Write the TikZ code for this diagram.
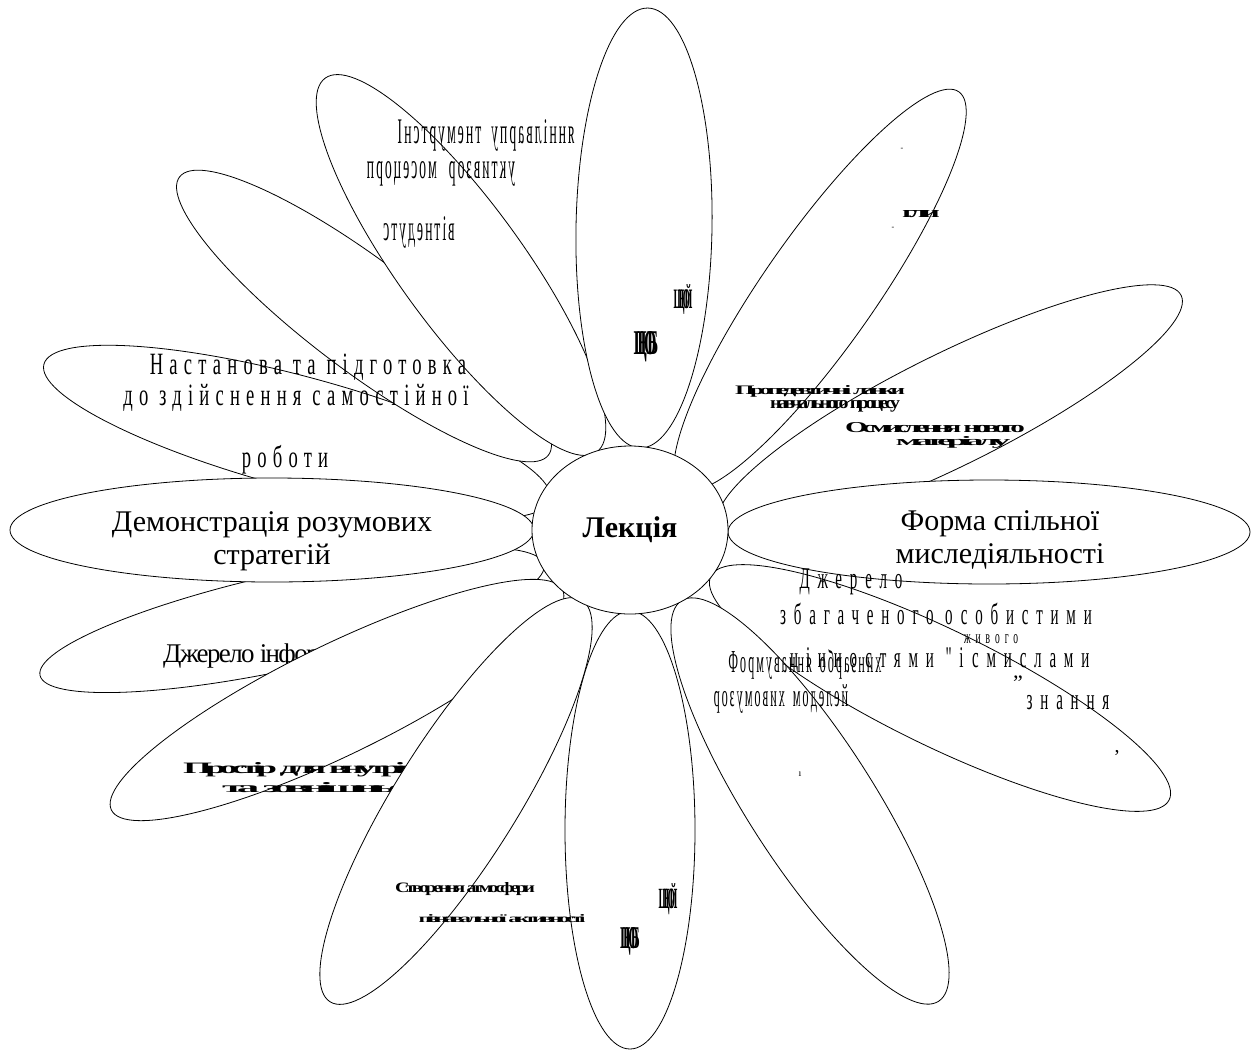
\documentclass[tikz,border=0pt]{standalone}
\usepackage{fontspec}
\usepackage{graphicx}
\setmainfont{Liberation Serif}
\newfontfamily\condfont[FakeStretch=0.6,LetterSpace=20]{Liberation Serif}
\newfontfamily\widefont[FakeStretch=0.5,LetterSpace=26]{Liberation Serif}
\newfontfamily\narrowfont[FakeStretch=0.38]{Liberation Serif}
\newfontfamily\tightfont[LetterSpace=-6]{Liberation Serif}
\newfontfamily\crushfont[LetterSpace=-18]{Liberation Serif}
\newfontfamily\blobfont[LetterSpace=-55]{Liberation Serif}
\usetikzlibrary{shapes.geometric}
\newcommand\fsz[1]{\fontsize{#1}{#1}\selectfont}
\newdimen\mirsp \mirsp=2pt
\def\mirEnd{}
\def\mirA#1{\ifx#1\mirEnd\else\reflectbox{#1}\kern\mirsp\expandafter\mirA\fi}
\newcommand\mirw[1]{\mirA#1\mirEnd}
\newcommand\blob[3]{\resizebox{#1pt}{#2pt}{\blobfont\bfseries #3}}
\newcommand\squash[3]{\resizebox{#1pt}{#2pt}{\crushfont\bfseries #3}}
\tikzset{
  petal/.style={draw, ellipse, line width=0.8pt, fill=white, inner sep=0pt, outer sep=0pt},
  lbl/.style={inner sep=0pt, anchor=base},
  lblw/.style={inner sep=0pt, anchor=base west},
}
\begin{document}
\begin{tikzpicture}[x=1pt,y=-1pt]
\useasboundingbox (0,0) rectangle (1256,1050);
% petals, back to front
\node[petal, minimum width=524, minimum height=112, rotate=-15] (p4) at (297,432) {};
\node[petal, minimum width=462, minimum height=110, rotate=-37] (p3) at (364,316) {};
\node[petal, minimum width=462, minimum height=124, rotate=-54] (p2) at (461,265) {};
\node[petal, minimum width=440, minimum height=136, rotate=89] (p1) at (644,228) {};
\node[petal, minimum width=484, minimum height=112, rotate=55] (p14) at (820,290) {};
\node[petal, minimum width=516, minimum height=112, rotate=26.4] (p13) at (950,410) {};
\node[petal, minimum width=522, minimum height=104] (p12) at (989,532) {};
\node[petal, minimum width=510, minimum height=116, rotate=-26] (p11) at (940,688) {};
\node[petal, minimum width=476, minimum height=126, rotate=-57.3] (p10) at (810,801) {};
\node[petal, minimum width=438, minimum height=130, rotate=90] (p9) at (630,830) {};
\node[petal, minimum width=516, minimum height=96, rotate=12.4] (p6) at (292,620) {};
\node[lblw, font=\tightfont\fsz{27}] (t6) at (163,662) {Джерело інформації};
\node[petal, minimum width=524, minimum height=104] (p5) at (272,530) {};
\node[petal, minimum width=502, minimum height=110, rotate=26] (p7) at (337,700) {};
\node[lblw] (t7a) at (183,773) {\squash{290}{11}{Простір для внутрішньої}};
\node[lblw] (t7b) at (222,792) {\squash{193}{10}{та зовнішньої}};
\node[petal, minimum width=474, minimum height=122, rotate=57.9] (p8) at (456,801) {};
% centre
\node[petal, minimum width=196, minimum height=168, font=\bfseries\fsz{30}] (c) at (630,530) {Лекція};

% texts on top
\node[lbl, font=\fsz{30}] (t12a) at (1000,530) {Форма спільної};
\node[lbl, font=\fsz{30}] (t12b) at (1000,563) {миследіяльності};
\node[lbl, font=\fsz{30}] (t5a) at (272,531) {Демонстрація розумових};
\node[lbl, font=\fsz{30}] (t5b) at (272,564) {стратегій};
\node[lbl, font=\condfont\fsz{31}] (t4a) at (308,374) {Настанова та підготовка};
\node[lbl, font=\condfont\fsz{31}] (t4b) at (296,405) {до здійснення самостійної};
\node[lbl, font=\condfont\fsz{31}] (t4c) at (285,467) {роботи};
% P2 mirrored letters
\node[lbl, font=\narrowfont\fsz{36}] (t2a) at (487,143) {\mirw{Інструмент}\hspace{8pt}\mirw{управління}};
\node[lbl, font=\narrowfont\fsz{36}] (t2b) at (442,178) {\mirw{процесом}\hspace{10pt}\mirw{розвитку}};
\node[lbl, font=\narrowfont\fsz{36}] (t2c) at (420,240) {\mirw{студентів}};
% P1 blobs
\node[lbl] (t1a) at (683,308) {\blob{19}{24}{ЩЮЙ}};
\node[lbl] (t1b) at (646,354) {\blob{25}{23}{ЦЮБ}};
% P14
\node[lbl] (t14a) at (902,150) {\fsz{8}-};
\node[lbl] (t14b) at (921,217) {\squash{38}{7}{гли}};
\node[lbl] (t14c) at (893,229) {\fsz{8}-};
\node[lbl] (t14d) at (820,394) {\squash{170}{9}{Пропедевтичні ланки}};
\node[lbl] (t14e) at (835,408) {\squash{130}{8}{навчального процесу}};
% P13
\node[lbl] (t13a) at (935,432) {\squash{180}{10}{Осмислення нового}};
\node[lbl] (t13b) at (953,445) {\squash{115}{9}{матеріалу}};
% P11
\node[lbl, font=\widefont\fsz{30}] (t11a) at (851,588) {Джерело};
\node[lbl, font=\widefont\fsz{30}] (t11b) at (936,624) {збагаченого особистими};
\node[lblw, font=\widefont\fsz{30}] (t11c) at (790,667) {цінностями "і};
\node[lblw, font=\widefont\fsz{19}] (t11d) at (964,643) {живого};
\node[lblw, font=\widefont\fsz{30}] (t11e) at (972,667) {смислами};
\node[lbl, font=\fsz{22}] (t11f) at (1018,690) {"};
\node[lbl, font=\widefont\fsz{30}] (t11g) at (1068,709) {знання};
\node[lbl, font=\fsz{20}] (t11h) at (1117,752) {,};
% P10 mirrored
\node[lbl, font=\narrowfont\fsz{32}] (t10a) at (806,672) {\mirw{Формування}\hspace{6pt}\mirw{образних}};
\node[lbl, font=\narrowfont\fsz{32}] (t10b) at (782,706) {\mirw{розумових}\hspace{6pt}\mirw{моделей}};
\node[lbl, font=\fsz{10}] (t10c) at (800,776) {ı};
% P8
\node[lbl] (t8a) at (465,892) {\squash{140}{10}{Створення атмосфери}};
\node[lbl] (t8b) at (502,922) {\squash{167}{8}{пізнавальної активності}};
% P9 blobs
\node[lbl] (t9a) at (668,908) {\blob{19}{25}{ЩЮЙ}};
\node[lbl] (t9b) at (630,948) {\blob{20}{21}{ЦЮБ}};
\end{tikzpicture}
\end{document}
